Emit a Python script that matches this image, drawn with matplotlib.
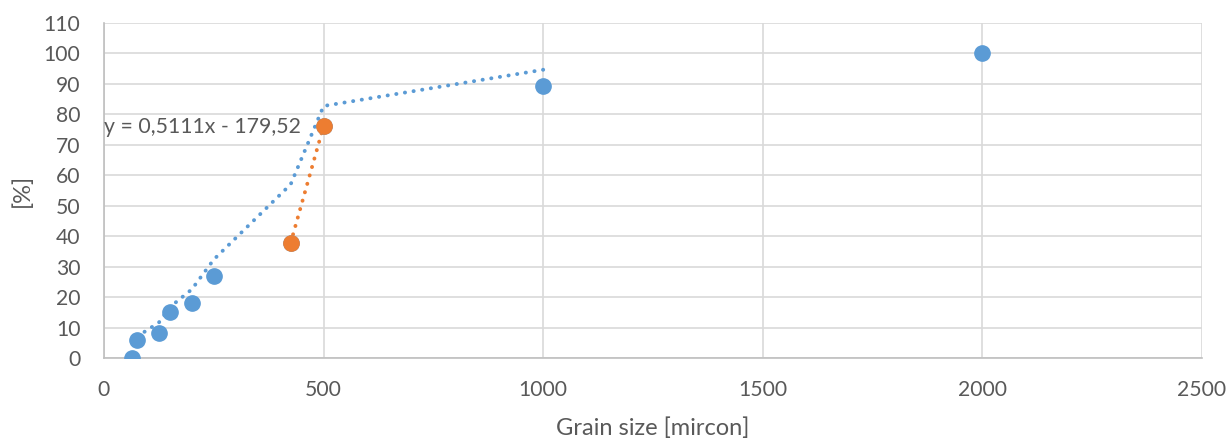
import numpy as np
from matplotlib import pyplot as plt

# sieve data (listed coarse to fine, as in the spreadsheet)
size = [2000, 1000, 500, 425, 250, 200, 150, 125, 75, 63]
passing = [100, 89.3, 76.2, 37.8, 26.9, 18.2, 15.2, 8.1, 5.9, 0]

# the two points with the linear trendline
fit_x = [425, 500]
fit_y = [37.8, 76.2]

x_ticks = [0, 500, 1000, 1500, 2000, 2500]
y_ticks = list(range(0, 111, 10))

blue = '#5B9BD5'
orange = '#ED7D31'
txt = '#595959'

plt.rcParams['font.family'] = ['Lato', 'DejaVu Sans']

fig = plt.figure(figsize=(12.31, 4.43), dpi=100)
ax = fig.add_axes([104/1231, 1-358/443, (1202-104)/1231, (358-23)/443])

dots = (0, (0.05, 2.2))

# 2-period moving average, plotted at the first x of each pair
ma_x = size[1:]
ma_y = [(passing[i] + passing[i+1]) / 2 for i in range(len(passing)-1)]
ax.plot(ma_x, ma_y, color=blue, lw=2.8, linestyle=dots,
        dash_capstyle='round', zorder=2)

# linear fit through orange points
k, b = np.polyfit(fit_x, fit_y, 1)
fx = np.array([min(fit_x), max(fit_x)])
ax.plot(fx, k*fx + b, color=orange, lw=2.8, linestyle=dots,
        dash_capstyle='round', zorder=2)

ax.plot(size, passing, 'o', color=blue, ms=11, zorder=3)
ax.plot(fit_x, fit_y, 'o', color=orange, ms=11, zorder=4)

ax.text(-1, 76, 'y = 0,5111x - 179,52', fontsize=15.3, color=txt,
        ha='left', va='center', zorder=5)

ax.set_xlim(0, 2500)
ax.set_ylim(0, 110)
ax.set_xticks(x_ticks)
ax.set_yticks(y_ticks)
ax.grid(True, color='#d9d9d9', lw=1.2)
ax.set_axisbelow(True)
for s in ['top', 'right']:
    ax.spines[s].set_visible(False)
for s in ['left', 'bottom']:
    ax.spines[s].set_color('#bfbfbf')
    ax.spines[s].set_linewidth(1.2)
ax.tick_params(length=0, labelsize=15.2, labelcolor=txt)
ax.tick_params(axis='y', pad=17)
ax.tick_params(axis='x', pad=16)
ax.set_xlabel('Grain size [mircon]', fontsize=17, color=txt, va='center')
ax.set_ylabel('[%]', fontsize=17, color=txt, va='center')
ax.xaxis.set_label_coords(0.5, (358-428)/335)
ax.yaxis.set_label_coords((22-104)/1098, 0.5)

fig.savefig('out.png', dpi=100)
